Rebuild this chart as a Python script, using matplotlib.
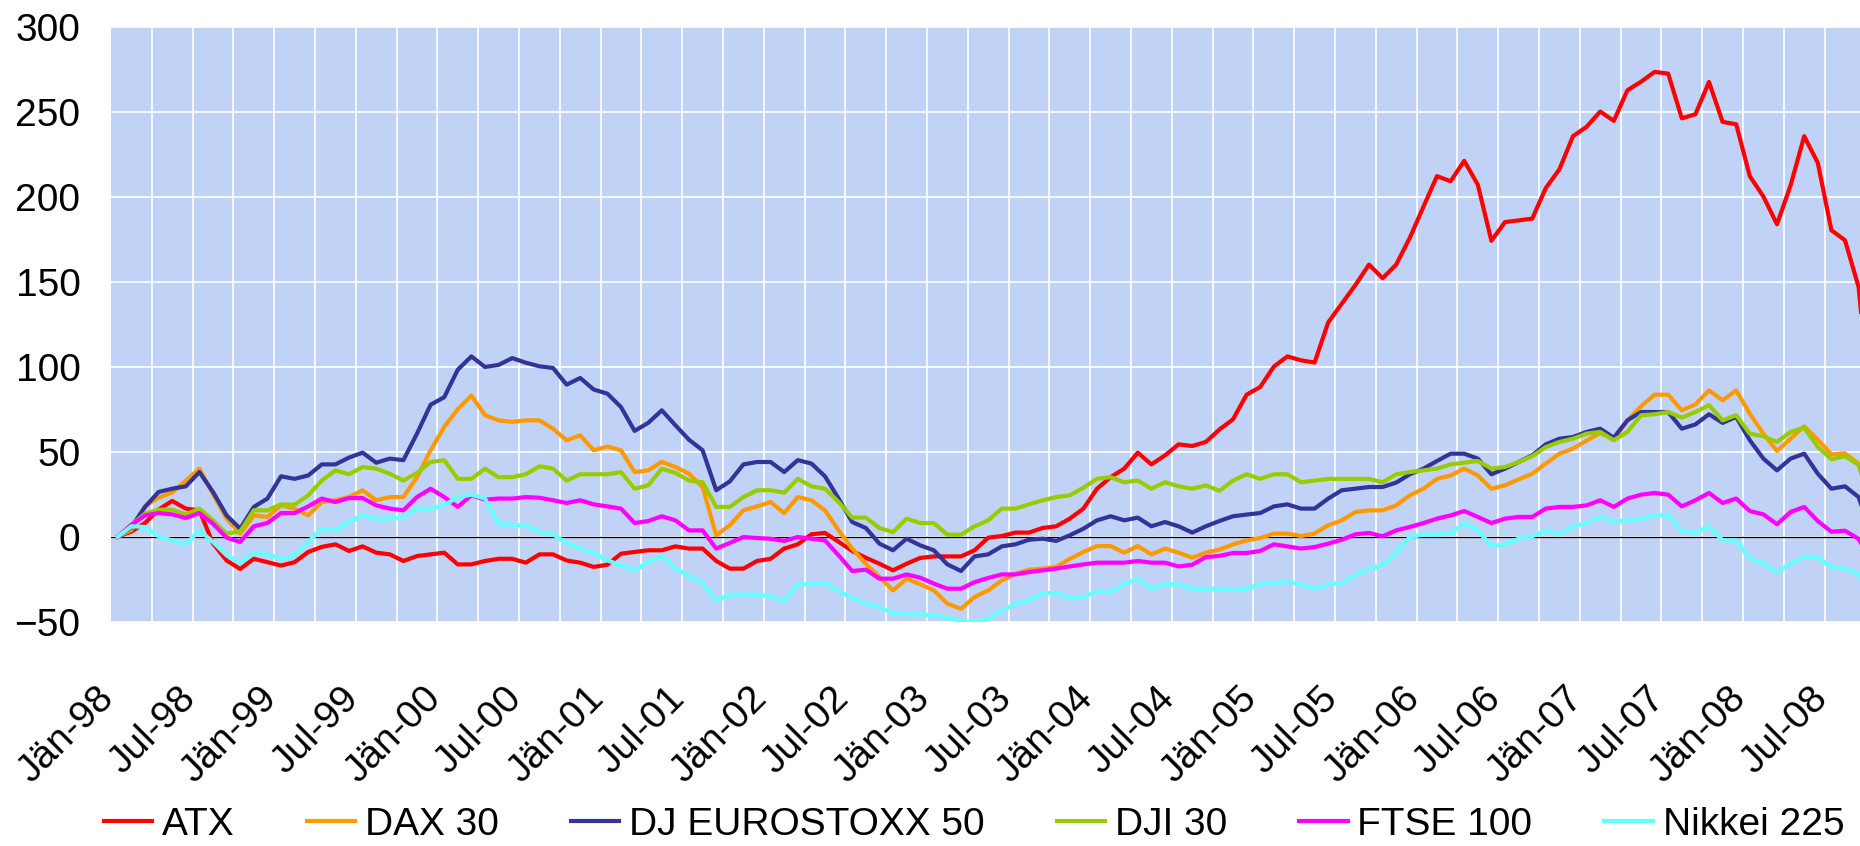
import matplotlib
matplotlib.use('Agg')
import matplotlib.pyplot as plt
import matplotlib.transforms as mtransforms
import numpy as np

plt.rcParams['font.family'] = ['Liberation Sans', 'DejaVu Sans']

# Wertentwicklung in %, monatlich ab Jän-98 (letzter Punkt liegt ausserhalb des Bildes)
atx = [0, 3, 8, 16, 21, 16.5, 15.5, -4, -14, -19, -13, -15, -17, -15, -9, -6, -4.5, -8.4, -5.7, -9.4,
       -10.4, -14.3, -11.4, -10.4, -9.4, -16.3, -16.3, -14.3, -13, -13, -15.3, -10.4, -10.4, -14, -15.3, -17.8, -16.5, -10, -9, -8,
       -8, -5.7, -7, -7, -14.3, -18.8, -18.8, -14.3, -13, -7, -4.5, 1.4, 2.2, -3, -8.4, -12.4, -15.9, -19.8, -15.9, -12.5,
       -11.6, -11.6, -11.6, -8, -0.6, 0.4, 2.4, 2.4, 5.1, 6.1, 10.6, 16.5, 28.2, 35, 40, 49.4, 42.5, 47.8, 54.3, 53.3,
       55.7, 63, 69, 83.5, 88, 100, 106, 103.7, 102.4, 126, 137, 148, 160, 152, 160, 175.7, 194, 212, 209, 221,
       207, 174, 185, 186, 187, 205, 216, 235.5, 241, 250, 244.5, 262.5, 267.5, 273.3, 272.3, 246, 248.4, 267.4, 243.9, 242.5,
       212, 200, 183.7, 206.6, 235.5, 219.8, 180.2, 174.3, 146.8, 64]
dax = [0, 4, 18, 23, 26, 33, 40, 25, 10.6, 1.8, 12.5, 11.6, 18.4, 16.5, 12.5, 20.4, 21.4, 23.3, 27.3, 21.4,
       23.3, 23.3, 35, 50.8, 64.5, 75, 83, 71.4, 68.4, 67.5, 68.4, 68.4, 63.5, 56.7, 59.6, 50.8, 53, 50.8, 38, 39,
       44, 41, 37, 29.2, 0.8, 6.7, 15.5, 17.8, 20.4, 13.9, 23.3, 21.4, 15.5, 3.7, -7, -15.9, -23.7, -31.6, -24.7, -28,
       -31.6, -39.4, -42.4, -35.5, -31.6, -25.7, -21.8, -19.4, -18.8, -17.8, -13, -9, -5.5, -5.5, -9.4, -5.5, -10.4, -7, -9.4, -12.4,
       -9.4, -7.6, -4.5, -2.2, -0.8, 1.8, 1.8, 0.4, 1.8, 6.7, 9.6, 14.5, 15.5, 15.5, 18.4, 24.3, 28.2, 34, 36, 40,
       36, 28.2, 30.2, 33.7, 37, 43, 48.8, 51.8, 56.5, 61, 57, 68.4, 76.6, 83.5, 83.5, 74.3, 77.8, 86, 80.2, 86,
       72.3, 60.6, 50.4, 57.6, 64.9, 57, 48.4, 49, 42.9, 20]
eurostoxx = [0, 5.7, 17.5, 26.3, 28.2, 29.6, 38, 26.3, 12.5, 4.7, 17.5, 22.4, 35.5, 34, 36, 42.5, 42.5, 46.5, 49.4, 43.5,
             45.9, 45, 60.6, 77.6, 82, 98.2, 106, 99.8, 101, 105, 102.3, 100.2, 99.2, 89.4, 93.3, 86.5, 84.1, 76.2, 62.2, 66.9,
             74.3, 65.5, 57, 50.8, 27.3, 32.5, 42.5, 43.9, 43.9, 38, 45, 43, 35.5, 22.4, 8.6, 5.1, -4.1, -8, -1.2, -5.1,
             -8, -16.3, -20.2, -11.6, -10.4, -5.7, -4.5, -1.8, -1.2, -2.5, 0.8, 4.7, 9.6, 12, 9.6, 11.2, 6.1, 8.6, 6.1, 2.4,
             6.1, 9.2, 12, 13, 13.9, 17.8, 19, 16.5, 16.5, 22.4, 27.3, 28.2, 29.2, 29.2, 31.8, 36.7, 40, 44.5, 48.8, 48.8,
             45.9, 36.7, 40, 43.9, 47.8, 54.3, 57.6, 58.6, 61.6, 63.5, 58.2, 68.4, 73.3, 73.3, 73.3, 63.5, 66, 72, 66.9, 70.4,
             56.7, 45.9, 39, 45.9, 48.8, 37, 28.2, 29.6, 23.3, 0]
dji = [0, 7, 13.5, 15.9, 15.9, 13.1, 16.5, 9.6, 1.8, 3.1, 15.5, 15.5, 19, 18.8, 24.3, 33, 39, 36.7, 41, 40,
       37, 33, 37.5, 43.9, 45, 34, 34, 40, 35, 35, 36.7, 41.4, 40, 33, 36.7, 36.7, 36.7, 38, 28.2, 30.2,
       40, 37.5, 33, 32, 17.5, 17.5, 23.3, 27.3, 27.3, 25.9, 34, 29.6, 28.2, 20.4, 11.2, 11.2, 5.1, 2.7, 10.6, 8,
       8, 1.2, 1.2, 6.1, 9.6, 16.5, 16.5, 19, 21.4, 23.3, 24.3, 28.8, 34, 35, 32, 33, 28.2, 32, 29.6, 28.2,
       30.2, 27, 33, 36.7, 34, 36.7, 36.7, 32, 33, 34, 34, 34, 34, 32, 36.7, 38, 39, 40, 42.5, 43.5,
       44.5, 40, 41, 43.9, 47.3, 52.7, 55.7, 57.6, 60.6, 61.6, 56.7, 61.6, 71.4, 72, 73.3, 70, 73.3, 77.3, 68.4, 71.4,
       60.6, 59, 55.7, 61.6, 64.1, 52.7, 45.5, 47.3, 42.3, 15]
ftse = [0, 7, 12.5, 13.9, 13.1, 11, 13.9, 7.6, -0.6, -3.1, 6.1, 8, 13.9, 13.9, 17.8, 22.4, 20.4, 22.7, 22.7, 18.4,
        16.5, 15.5, 23.3, 28.2, 23.3, 17.5, 24.3, 21.8, 22.4, 22.4, 23.3, 22.9, 21.4, 19.8, 21.4, 19, 17.8, 16.5, 8, 9.2,
        12, 9.6, 3.7, 3.7, -7, -3.7, -0.2, -0.8, -1.2, -2.5, -0.2, -1.2, -2.2, -11, -20.2, -19.4, -24.7, -24.7, -22.2, -24.1,
        -27.6, -30.6, -30.6, -26.7, -24.3, -22.2, -22.2, -20.8, -19.8, -18.8, -17.5, -16.3, -15.3, -15.3, -15.3, -14.3, -15.3, -15.3, -17.5, -16.5,
        -12, -11.3, -9.6, -9.6, -8.4, -4.5, -5.7, -7, -6.1, -4.1, -1.8, 1.4, 2.2, 0.2, 3.7, 5.7, 8, 10.6, 12.5, 15.1,
        11.6, 8, 10.6, 11.6, 11.6, 16.5, 17.5, 17.5, 18.4, 21.4, 17.5, 22.4, 24.7, 25.7, 24.7, 17.8, 21.4, 25.7, 19.8, 22.4,
        15.1, 13.1, 7.3, 14.5, 17.5, 9.2, 2.9, 3.5, -1.3, -15]
nikkei = [0, 6.1, 5.7, 0.2, -2.2, -4.5, 3.7, -3.1, -11, -15.3, -9.6, -10.4, -13, -11, -3.1, 4.7, 3.7, 8.6, 12.5, 10.6,
          10.6, 11.6, 16.5, 16.5, 18.4, 23.3, 24.7, 22.4, 7.6, 7, 6.7, 2.7, 1.4, -3.7, -7, -9.6, -13.9, -16.9, -19.8, -14.9,
          -11.4, -18.8, -23.3, -27.3, -37.5, -34.1, -34.1, -34.1, -35.1, -37.8, -28, -28, -27.3, -32, -35.9, -39.2, -41.4, -45, -45.7, -45.7,
          -46.3, -47.6, -49.6, -50.2, -48.2, -43.7, -39.4, -37.5, -33.1, -33.1, -35.9, -35.5, -32, -32.5, -28, -24.7, -30.6, -28, -28, -30.6,
          -30.6, -30.6, -31.6, -30.6, -28, -27.3, -26.3, -28, -30.6, -28, -27.3, -22.7, -18.8, -16.9, -9.6, -0.2, 1.2, 1.2, 1.8, 8,
          3.7, -5.5, -4.5, -1.2, 0.2, 3.7, 1.4, 6.1, 8, 11.6, 8.6, 9.6, 10.6, 12.5, 12.9, 3.3, 2.2, 6.1, -2.2, -2.2,
          -13, -15.5, -20.8, -15.9, -11.6, -12, -17.9, -18.8, -22, -40]

tick_labels = ["Jän-98", "Jul-98", "Jän-99", "Jul-99", "Jän-00", "Jul-00", "Jän-01", "Jul-01",
               "Jän-02", "Jul-02", "Jän-03", "Jul-03", "Jän-04", "Jul-04", "Jän-05", "Jul-05",
               "Jän-06", "Jul-06", "Jän-07", "Jul-07", "Jän-08", "Jul-08"]

series = [("ATX", atx, '#FF0000'),
          ("DAX 30", dax, '#FF9900'),
          ("DJ EUROSTOXX 50", eurostoxx, '#333399'),
          ("DJI 30", dji, '#99CC00'),
          ("FTSE 100", ftse, '#FF00FF'),
          ("Nikkei 225", nikkei, '#66FFFF')]

n = len(atx)
x = np.arange(n)

fig = plt.figure(figsize=(18.6, 8.46), dpi=100)
# Plotflaeche reicht rechts ueber den Bildrand hinaus (wie im Original abgeschnitten)
ax = fig.add_axes([111 / 1860, (846 - 621.7) / 846, 13.6 * n / 1860, 595.2 / 846])
ax.set_facecolor('#C0D3F7')

for name, vals, col in series:
    ax.plot(x, vals, color=col, lw=3.0, label=name)

ax.axhline(0, color='black', lw=0.9, zorder=1.5)

ax.set_xlim(-0.5, n - 0.5)
ax.set_ylim(-50, 300)
ax.set_yticks(range(-50, 301, 50))
ax.set_xticks(np.arange(0, n, 6)[:len(tick_labels)])
ax.set_xticklabels(tick_labels, rotation=45, ha='right', va='top', rotation_mode='anchor')
ax.set_xticks(np.arange(2.5, n, 3), minor=True)

ax.grid(which='minor', axis='x', color='white', lw=1.2)
ax.grid(which='major', axis='y', color='white', lw=1.2)
ax.set_axisbelow(True)

ax.tick_params(which='both', length=0, labelsize=28)
ax.tick_params(axis='y', pad=22)
ax.tick_params(axis='x', pad=42)
for sp in ax.spines.values():
    sp.set_visible(False)

offset = mtransforms.ScaledTranslation(-22 / 100, 0, fig.dpi_scale_trans)
for lbl in ax.get_xticklabels():
    lbl.set_transform(lbl.get_transform() + offset)

fig.legend(loc='center', bbox_to_anchor=(974 / 1860, 1 - 825 / 846), ncol=6, frameon=False,
           fontsize=28, handlelength=1.25, handletextpad=0.25, columnspacing=1.85)

fig.savefig('out.png', dpi=100)
